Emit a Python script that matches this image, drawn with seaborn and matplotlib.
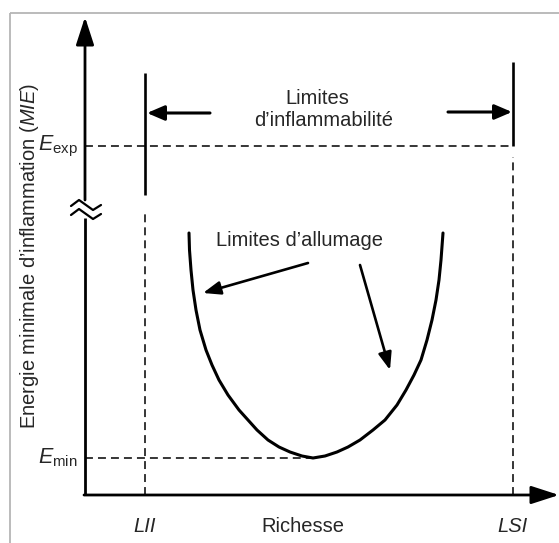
import numpy as np
import pandas as pd
import matplotlib
matplotlib.use("Agg")
import matplotlib.pyplot as plt
import seaborn as sns

# ---------------- data (schematic units: origin at the axes corner) -------------
# ignition-limit curve (richness, energy)
curve_richness = [104, 104.5, 106, 108, 111, 115, 121, 127, 134, 143, 154, 163, 172,
                  183, 194, 205, 217, 228,
                  240, 252, 263, 275, 288, 300, 312, 321, 329, 336, 342, 347, 351,
                  354, 356, 358]
curve_energy = [262, 245, 225, 205, 185, 165, 145, 130, 115, 100, 85, 75, 65,
                55, 48, 43, 39, 37,
                39, 43, 48, 55, 65, 75, 90, 105, 120, 135, 155, 175, 195,
                215, 235, 262]

LII = 60          # lower flammability limit (richness)
LSI = 428         # upper flammability limit (richness)
E_EXP = 349       # experimental energy level
E_MIN = 37        # minimum ignition energy

x_axis_end = 474
y_axis_end = 478
y_break = [277, 295]

lii_solid = [300, 422]
lsi_solid = [349, 433]
lii_dash_top = 285
lsi_dash_top = 338

tick_labels = ["LII", "Richesse", "LSI"]
tick_positions = [LII, 218, LSI]

# ---------------- style -------------
sns.set_theme(style="white")
plt.rcParams["font.family"] = ["Liberation Sans", "DejaVu Sans"]
plt.rcParams["mathtext.fontset"] = "custom"
plt.rcParams["mathtext.rm"] = "Liberation Sans"
plt.rcParams["mathtext.it"] = "Liberation Sans:italic"
plt.rcParams["mathtext.bf"] = "Liberation Sans:bold"

FS = 14.5
fig = plt.figure(figsize=(5.59, 5.43), dpi=100)
ax = fig.add_axes([0, 0, 1, 1])
ax.set_xlim(-85, 474)
ax.set_ylim(-48, 495)
ax.axis("off")

# outer light frame
ax.plot([-75, 480], [482, 482], color="#b5b5b5", lw=1.3, solid_capstyle="butt")
ax.plot([-75, -75], [482, -60], color="#b5b5b5", lw=1.3, solid_capstyle="butt")

# curve
df = pd.DataFrame({"richesse": curve_richness, "energie": curve_energy})
sns.lineplot(data=df, x="richesse", y="energie", sort=False, color="black",
             lw=2.2, ax=ax, legend=False)
ax.lines[-1].set_solid_joinstyle("round")

k = "black"
# axes with arrows
ax.plot([0, 0], [0, y_break[0]], color=k, lw=2.0, solid_capstyle="butt")
ax.annotate("", xy=(0, y_axis_end), xytext=(0, y_break[1]),
            arrowprops=dict(arrowstyle="-|>,head_length=1.7,head_width=0.55",
                            mutation_scale=10, lw=2.0, color=k,
                            shrinkA=0, shrinkB=0))
ax.annotate("", xy=(x_axis_end, 0), xytext=(-1, 0),
            arrowprops=dict(arrowstyle="-|>,head_length=1.7,head_width=0.55",
                            mutation_scale=10, lw=2.0, color=k,
                            shrinkA=0, shrinkB=0))

# axis break zigzags
zx = [-14, -6, 8, 16]
ax.plot(zx, [289, 295, 285, 290], color=k, lw=1.6)
ax.plot(zx, [280, 286, 276, 281], color=k, lw=1.6)

# dashed guides
dash = (0, (5.2, 3.3))
ax.plot([0, LSI], [E_EXP, E_EXP], color=k, lw=1.1, linestyle=dash)
ax.plot([0, 228], [E_MIN, E_MIN], color=k, lw=1.1, linestyle=dash)
ax.plot([LII, LII], [0, lii_dash_top], color=k, lw=1.1, linestyle=dash)
ax.plot([LSI, LSI], [0, lsi_dash_top], color=k, lw=1.1, linestyle=dash)

# flammability limit bars
ax.plot([LII, LII], lii_solid, color=k, lw=1.9, solid_capstyle="butt")
ax.plot([LSI, LSI], lsi_solid, color=k, lw=1.9, solid_capstyle="butt")

# flammability arrows
arr = dict(arrowstyle="-|>,head_length=1.05,head_width=0.45", mutation_scale=10,
           lw=2.2, color=k, shrinkA=0, shrinkB=0)
ax.annotate("", xy=(LII + 2, 382), xytext=(125, 382), arrowprops=arr)
ax.annotate("", xy=(LSI - 1, 383), xytext=(363, 383), arrowprops=arr)

# ignition arrows
arr2 = dict(arrowstyle="-|>,head_length=1.05,head_width=0.4", mutation_scale=10,
            lw=1.9, color=k, shrinkA=0, shrinkB=0)
ax.annotate("", xy=(118, 202), xytext=(223, 232), arrowprops=arr2)
ax.annotate("", xy=(305, 125), xytext=(275, 230), arrowprops=arr2)

# texts
ax.text(232, 396, "Limites", ha="center", va="center", fontsize=FS)
ax.text(239, 375, "d\u2019inflammabilit\u00e9", ha="center", va="center", fontsize=FS)
ax.text(215, 254, "Limites d\u2019allumage", ha="center", va="center", fontsize=FS)

for lab, pos in zip(tick_labels, tick_positions):
    ax.text(pos, -31, lab, ha="center", va="center", fontsize=FS,
            style="normal" if lab == "Richesse" else "italic")

ax.text(-7, E_EXP, r"$E_{\mathrm{exp}}$", ha="right", va="center", fontsize=FS + 1)
ax.text(-7, E_MIN, r"$E_{\mathrm{min}}$", ha="right", va="center", fontsize=FS + 1)

ax.text(-55, 239, "Energie minimale d\u2019inflammation ($\\mathit{MIE}$)",
        rotation=90, ha="center", va="center", fontsize=FS)

fig.savefig("out.png", dpi=100)
